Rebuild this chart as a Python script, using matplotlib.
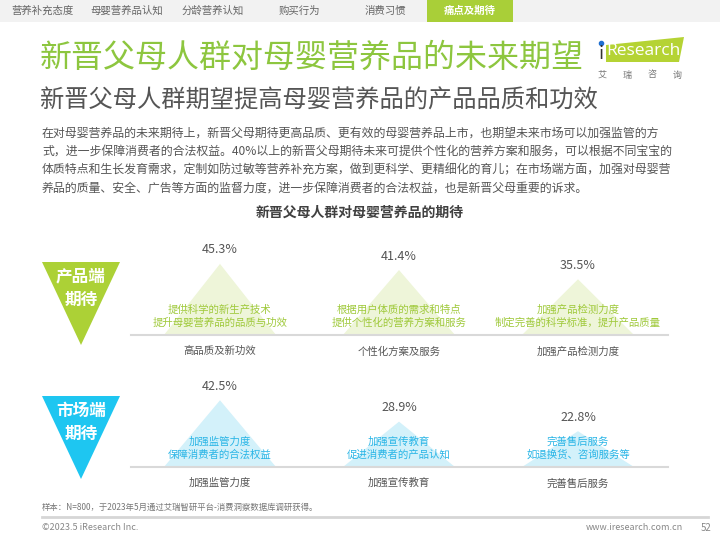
import matplotlib.pyplot as plt
from matplotlib.patches import Polygon, Rectangle

plt.rcParams['font.family'] = ['Noto Sans CJK SC', 'DejaVu Sans']

# data
tabs = ['营养补充态度', '母婴营养品认知', '分龄营养认知', '购买行为', '消费习惯', '痛点及期待']
prod_cats = ['高品质及新功效', '个性化方案及服务', '加强产品检测力度']
prod_vals = [45.3, 41.4, 35.5]
prod_desc = ['提供科学的新生产技术\n提升母婴营养品的品质与功效',
             '根据用户体质的需求和特点\n提供个性化的营养方案和服务',
             '加强产品检测力度\n制定完善的科学标准，提升产品质量']
mkt_cats = ['加强监管力度', '加强宣传教育', '完善售后服务']
mkt_vals = [42.5, 28.9, 22.8]
mkt_desc = ['加强监管力度\n保障消费者的合法权益',
            '加强宣传教育\n促进消费者的产品认知',
            '完善售后服务\n如退换货、咨询服务等']
para = ['在对母婴营养品的未来期待上，新晋父母期待更高品质、更有效的母婴营养品上市，也期望未来市场可以加强监管的方',
        '式，进一步保障消费者的合法权益。40%以上的新晋父母期待未来可提供个性化的营养方案和服务，可以根据不同宝宝的',
        '体质特点和生长发育需求，定制如防过敏等营养补充方案，做到更科学、更精细化的育儿；在市场端方面，加强对母婴营',
        '养品的质量、安全、广告等方面的监督力度，进一步保障消费者的合法权益，也是新晋父母重要的诉求。']

GREEN = '#8dc63f'
fig = plt.figure(figsize=(7.2, 5.4), dpi=100)
bg = fig.add_axes([0, 0, 1, 1])
bg.set_xlim(0, 720)
bg.set_ylim(540, 0)
bg.axis('off')

# header tabs
bg.add_patch(Rectangle((0, 0), 720, 22, color='#f2f2f2', lw=0))
bg.add_patch(Rectangle((427, 0), 86, 22, color='#a9cf38', lw=0))
tab_x = [43, 127, 213, 299, 385, 470]
for t, x in zip(tabs, tab_x):
    last = t == tabs[-1]
    bg.text(x, 11, t, ha='center', va='center', fontsize=7.5,
            color='white' if last else '#666666', fontweight='bold' if last else 'light')

# titles
bg.text(40, 58, '新晋父母人群对母婴营养品的未来期望', fontsize=23, color=GREEN, va='center', fontweight='light')
bg.text(40, 101, '新晋父母人群期望提高母婴营养品的产品品质和功效', fontsize=17.5, color='#555555', va='center',
        fontweight='light')

# logo
bg.add_patch(Polygon([(606, 45), (684, 37), (679, 62), (606, 62)], closed=True, color='#b5d334', lw=0))
bg.text(601, 54, 'i', fontsize=13, color='#333333', va='center', ha='center', family='DejaVu Sans')
bg.plot(601, 43, 'o', color='#1f6fd0', ms=3)
bg.text(643, 51, 'Research', fontsize=12.5, color='white', va='center', ha='center', family='Open Sans')
for k, ch in enumerate('艾瑞咨询'):
    bg.text(602 + k * 25, 75, ch, fontsize=6.5, color='#777777', ha='center', va='center')

# paragraph
for k, line in enumerate(para):
    bg.text(42, 133 + k * 18.5, line, fontsize=8.6, color='#555555', va='center', fontweight='light')

bg.text(360, 213, '新晋父母人群对母婴营养品的期待', fontsize=10, fontweight='bold', color='#404040',
        ha='center', va='center')

# left labels
bg.add_patch(Polygon([(42, 262), (120, 262), (81, 345)], closed=True, color='#acd136', lw=0))
bg.text(81, 288, '产品端\n期待', fontsize=12, fontweight='bold', color='white', ha='center', va='center',
        linespacing=1.35)
bg.add_patch(Polygon([(42, 396), (120, 396), (81, 479)], closed=True, color='#1ec6f1', lw=0))
bg.text(81, 422, '市场端\n期待', fontsize=12, fontweight='bold', color='white', ha='center', va='center',
        linespacing=1.35)

# footer
bg.text(42, 507, '样本：N=800，于2023年5月通过艾瑞智研平台-消费洞察数据库调研获得。', fontsize=6, color='#777777',
        va='center')
bg.plot([42, 708], [517, 517], color='#d6d6d6', lw=2)
bg.text(42, 528, '©2023.5 iResearch Inc.', fontsize=6.5, color='#888888', va='center')
bg.text(683, 528, 'www.iresearch.com.cn', fontsize=6.5, color='#888888', va='center', ha='right')
bg.text(706, 528, '52', fontsize=7, color='#888888', va='center', ha='center')

PX = 1.57  # pixels per percent
YMAX = 60


def panel(base_y, vals, cats, desc, light, dark):
    h = YMAX * PX
    ax = fig.add_axes([130.5 / 720, (540 - base_y) / 540, 537 / 720, h / 540])
    ax.set_xlim(-0.5, 2.5)
    ax.set_ylim(0, YMAX)
    ax.patch.set_alpha(0)
    for s in ['top', 'left', 'right']:
        ax.spines[s].set_visible(False)
    ax.spines['bottom'].set_color('#d9d9d9')
    ax.spines['bottom'].set_linewidth(1.5)
    ax.set_yticks([])
    ax.set_xticks(range(len(cats)))
    ax.set_xticklabels(cats, fontsize=7.5, color='#555555')
    ax.tick_params(axis='x', length=0, pad=8)
    w = 0.313
    for i, v in enumerate(vals):
        ax.fill([i - w, i, i + w], [0, v, 0], color=light, lw=0, zorder=1)
        ax.annotate(f'{v}%', (i, v), xytext=(0, 10), textcoords='offset points',
                    ha='center', va='center', fontsize=9, color='#555555', fontweight='light')
        ax.annotate(desc[i], (i, 0), xytext=(0, 13.5), textcoords='offset points',
                    ha='center', va='center', fontsize=7.5, color=dark, linespacing=1.25, zorder=2)
    return ax


panel(335, prod_vals, prod_cats, prod_desc, '#eef5d9', '#9fc93a')
panel(467, mkt_vals, mkt_cats, mkt_desc, '#d3f1fa', '#29b5e6')

fig.savefig('out.png', dpi=100)
